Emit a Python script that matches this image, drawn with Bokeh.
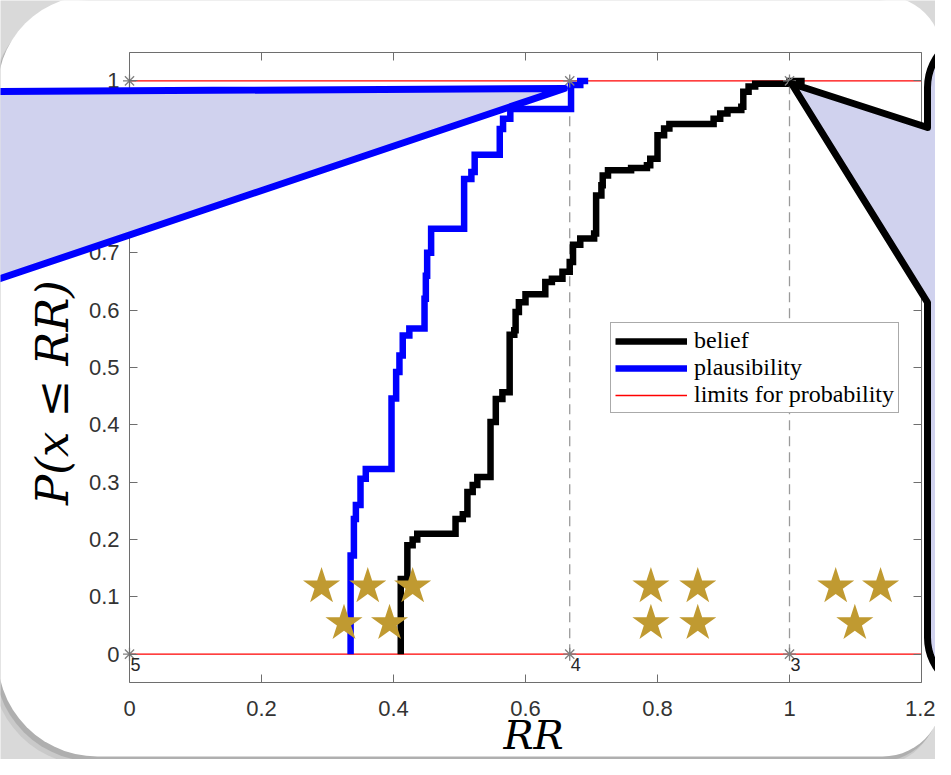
import math
from bokeh.plotting import figure
from bokeh.models import (Range1d, LinearAxis, FixedTicker, PolyAnnotation, Label,
                          Legend, LegendItem, CustomJSTickFormatter)
from bokeh.core.properties import value
from bokeh.embed import file_html
from bokeh.resources import INLINE

# ---------------- data ----------------
belief_x = [0.411, 0.411, 0.421, 0.429, 0.436, 0.494, 0.505, 0.512, 0.520, 0.527, 0.547,
            0.555, 0.565, 0.576, 0.583, 0.585, 0.590, 0.600, 0.630, 0.640, 0.656, 0.667,
            0.672, 0.683, 0.704, 0.707, 0.715, 0.717, 0.725, 0.760, 0.784, 0.789, 0.800,
            0.810, 0.818, 0.885, 0.895, 0.906, 0.927, 0.930, 0.938, 0.948, 1.000, 1.023]
belief_y = [0.000, 0.131, 0.190, 0.200, 0.210, 0.236, 0.244, 0.283, 0.295, 0.309, 0.405,
            0.445, 0.457, 0.557, 0.565, 0.597, 0.614, 0.628, 0.649, 0.655, 0.667, 0.684,
            0.714, 0.725, 0.734, 0.800, 0.818, 0.835, 0.844, 0.848, 0.853, 0.864, 0.905,
            0.917, 0.925, 0.934, 0.943, 0.949, 0.955, 0.981, 0.990, 0.995, 1.000, 1.000]

plaus_x = [0.335, 0.335, 0.340, 0.343, 0.350, 0.358, 0.397, 0.404, 0.409, 0.414, 0.424,
           0.447, 0.449, 0.451, 0.457, 0.507, 0.518, 0.523, 0.561, 0.566, 0.577, 0.669,
           0.683, 0.695]
plaus_y = [0.000, 0.172, 0.236, 0.260, 0.306, 0.323, 0.446, 0.492, 0.521, 0.556, 0.568,
           0.620, 0.660, 0.700, 0.742, 0.829, 0.841, 0.871, 0.916, 0.934, 0.951, 0.993,
           1.000, 1.000]

limit_xs = [[0.0, 1.2], [0.0, 1.2]]
limit_ys = [[0.0, 0.0], [1.0, 1.0]]

level_x = [0.0, 0.667, 1.0, 0.0, 0.667, 1.0]
level_y = [0.0, 0.0, 0.0, 1.0, 1.0, 1.0]
level_labels_x = [0.0, 0.667, 1.0]
level_labels_y = [0.0, 0.0, 0.0]
level_labels = ["5", "4", "3"]
dash_x = [0.667, 1.0]

star_x = [0.291, 0.361, 0.429, 0.325, 0.394, 0.790, 0.861, 0.790, 0.861, 1.070, 1.138, 1.099]
star_y = [0.118, 0.118, 0.118, 0.054, 0.054, 0.118, 0.118, 0.054, 0.054, 0.118, 0.118, 0.054]

x_ticks = [0, 0.2, 0.4, 0.6, 0.8, 1, 1.2]
x_tick_labels = ["0", "0.2", "0.4", "0.6", "0.8", "1", "1.2"]
y_ticks = [0, 0.1, 0.2, 0.3, 0.4, 0.5, 0.6, 0.7, 0.8, 0.9, 1]
y_tick_labels = ["0", "0.1", "0.2", "0.3", "0.4", "0.5", "0.6", "0.7", "0.8", "0.9", "1"]
x_lim = (0.0, 1.2)
y_lim = (-0.0494, 1.0495)

# ---------------- geometry (canvas pixels) ----------------
W, H = 935, 759
M = 8                      # page margin: canvas = page - 8
AX_L, AX_R = 129, 921      # axes box in canvas pixels
AX_T, AX_B = 52, 682
sx = (AX_R - AX_L) / (x_lim[1] - x_lim[0])
sy = (AX_B - AX_T) / (y_lim[1] - y_lim[0])
xr = Range1d(x_lim[0] - AX_L / sx, x_lim[1] + (W - AX_R) / sx)
yr = Range1d(y_lim[0] - (H - AX_B) / sy, y_lim[1] + AX_T / sy)

p = figure(width=W, height=H, x_range=xr, y_range=yr, title=None,
           output_backend="svg", toolbar_location=None,
           min_border=0, min_border_left=0, min_border_right=0, min_border_top=0,
           min_border_bottom=0, border_fill_color="#d9d9d9",
           background_fill_color="#d9d9d9", outline_line_color=None)
p.grid.visible = False


def arc(cx, cy, r, a0, a1, n=14):
    pts = []
    for i in range(n + 1):
        a = math.radians(a0 + (a1 - a0) * i / n)
        pts.append((cx + r * math.cos(a), cy + r * math.sin(a)))
    return pts


def poly(points, **kw):
    xs = [x - M for x, _ in points]
    ys = [y - M for _, y in points]
    return PolyAnnotation(xs=xs, ys=ys, xs_units="canvas", ys_units="canvas", **kw)


def round_rect(x0, y0, x1, y1, rtl, rtr, rbr, rbl):
    pts = []
    pts += arc(x0 + rtl, y0 + rtl, rtl, 180, 270)
    pts += arc(x1 - rtr, y0 + rtr, rtr, 270, 360)
    pts += arc(x1 - rbr, y1 - rbr, rbr, 0, 90)
    pts += arc(x0 + rbl, y1 - rbl, rbl, 90, 180)
    return pts

# slide panel with soft shadow (page coordinates)
for dx, dy, col, a in [(-6, 9, "#c4c4c4", 0.8), (-3, 5, "#a9a9a9", 0.8)]:
    p.add_layout(poly(round_rect(5 + dx, 3 + dy, 950 + dx, 764 + dy, 95, 60, 60, 100),
                      level="underlay", fill_color=col, fill_alpha=a, line_color=None))
p.add_layout(poly(round_rect(5, 3, 950, 764, 95, 60, 60, 100), level="underlay",
                  fill_color="white", fill_alpha=1.0, line_color=None))

# ---------------- axes (box with inward ticks) ----------------
axis_color = "#6e6e6e"
xa = p.xaxis[0]
ya = p.yaxis[0]
xa.ticker = FixedTicker(ticks=x_ticks)
ya.ticker = FixedTicker(ticks=y_ticks)
xa.major_label_overrides = dict(zip(x_ticks, x_tick_labels))
ya.major_label_overrides = dict(zip(y_ticks, y_tick_labels))
xa.fixed_location = y_lim[0]
ya.fixed_location = x_lim[0]

top = LinearAxis(ticker=FixedTicker(ticks=x_ticks), formatter=CustomJSTickFormatter(code="return ''"))
right = LinearAxis(ticker=FixedTicker(ticks=y_ticks), formatter=CustomJSTickFormatter(code="return ''"))
p.add_layout(top, "above")
p.add_layout(right, "right")
top.fixed_location = y_lim[1]
right.fixed_location = x_lim[1]

for ax in [xa, top]:
    ax.bounds = x_lim
for ax in [ya, right]:
    ax.bounds = y_lim

for ax in [xa, ya, top, right]:
    ax.axis_line_color = axis_color
    ax.major_tick_line_color = axis_color
    ax.major_tick_in = 8
    ax.major_tick_out = 0
    ax.minor_tick_line_color = None
    ax.major_label_text_font = "Liberation Sans"
    ax.major_label_text_font_size = "22px"
    ax.major_label_text_color = "#333333"
top.major_label_standoff = 0
right.major_label_standoff = 0
xa.major_label_standoff = 18
ya.major_label_standoff = 10

# axis titles
p.add_layout(Label(x=533, y=734, x_units="canvas", y_units="canvas", text="RR",
                   text_align="center", text_baseline="middle", text_font="DejaVu Serif",
                   text_font_style="italic", text_font_size="40px", text_color="black"))
p.add_layout(Label(x=52, y=392, x_units="canvas", y_units="canvas", text="P(x \u2264 RR)",
                   angle=math.pi / 2, text_align="center", text_baseline="middle",
                   text_font="DejaVu Serif", text_font_style="italic",
                   text_font_size="45px", text_color="black"))

# ---------------- glyphs ----------------
p.segment(x0=dash_x, y0=[0, 0], x1=dash_x, y1=[1, 1], line_color="#9a9a9a",
          line_width=1.3, line_dash="10 6")

r_lim = p.multi_line(xs=limit_xs, ys=limit_ys, line_color="#ff0000", line_width=1.3)

r_pl = p.step(x=plaus_x, y=plaus_y, mode="after", line_color="#0000ff", line_width=6.5,
              line_join="miter")
r_bel = p.step(x=belief_x, y=belief_y, mode="after", line_color="black", line_width=6.5,
               line_join="miter")

p.scatter(x=level_x, y=level_y, marker="asterisk", size=13, line_color="#808080",
          line_width=1.3)
p.text(x=level_labels_x, y=level_labels_y, text=level_labels, x_offset=1, y_offset=4,
       text_align="left", text_baseline="top", text_font=value("Liberation Sans"),
       text_font_size="18px", text_color="#262626")

p.scatter(x=star_x, y=star_y, marker="star", size=39, fill_color="#c09a31",
          line_color=None)

legend = Legend(items=[LegendItem(label="belief", renderers=[r_bel]),
                       LegendItem(label="plausibility", renderers=[r_pl]),
                       LegendItem(label="limits for probability", renderers=[r_lim])],
                location=(610, 346), glyph_width=72, glyph_height=20, label_height=20,
                label_standoff=7, spacing=0, padding=4, margin=0,
                label_text_font="Liberation Serif", label_text_font_size="24px",
                label_text_color="black", border_line_color="#555555",
                border_line_width=1, background_fill_color="white", background_fill_alpha=1)
p.add_layout(legend)

# ---------------- callouts ----------------
callout_fill = "#d0d2ee"
left_pts = [(-400, 28)] + arc(-38, 68, 40, 270, 360) + [(2, 99), (572, 96), (2, 288)] \
    + arc(-38, 628, 40, 0, 90) + [(-400, 668)]
right_pts = [(1300, 40)] + arc(990, 95, 55, 270, 180) + [(935, 135), (799, 91), (935, 310)] \
    + arc(990, 645, 55, 180, 90) + [(1300, 700)]
p.add_layout(poly(left_pts, level="overlay", fill_color=callout_fill, fill_alpha=1.0,
                  line_color="#0000ff", line_alpha=1.0, line_width=7, line_join="round"))
p.add_layout(poly(right_pts, level="overlay", fill_color=callout_fill, fill_alpha=1.0,
                  line_color="black", line_alpha=1.0, line_width=7, line_join="round"))

open("out.html", "w").write(file_html(p, INLINE))
